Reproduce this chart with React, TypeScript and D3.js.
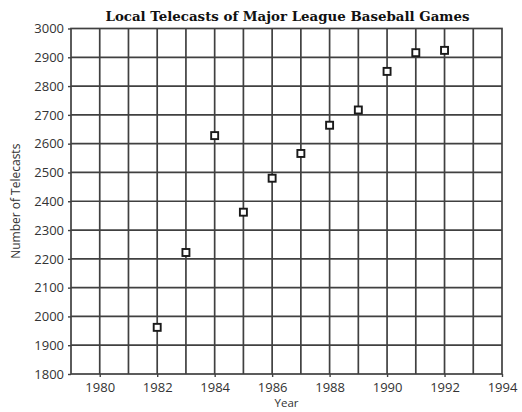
import * as d3 from "d3";
import { useEffect, useRef } from "react";

const years = [1982, 1983, 1984, 1985, 1986, 1987, 1988, 1989, 1990, 1991, 1992];
const telecasts = [1962, 2222, 2628, 2362, 2480, 2566, 2664, 2717, 2851, 2916, 2924];
const xTicks = [1980, 1982, 1984, 1986, 1988, 1990, 1992, 1994];
const yTicks = [1800, 1900, 2000, 2100, 2200, 2300, 2400, 2500, 2600, 2700, 2800, 2900, 3000];

export default function App() {
    const svgRef = useRef<SVGSVGElement | null>(null);

    useEffect(() => {
        if (!svgRef.current) return;

        const svg = d3.select(svgRef.current);
        svg.selectAll("*").remove();

        const margin = { top: 28.5, right: 20, bottom: 38, left: 71 };
        const totalW = 522;
        const totalH = 412;
        const W = totalW - margin.left - margin.right;
        const H = totalH - margin.top - margin.bottom;

        svg.append("rect").attr("width", totalW).attr("height", totalH).attr("fill", "#fff");

        const g = svg
            .append("g")
            .attr("transform", `translate(${margin.left},${margin.top})`);

        const x = d3.scaleLinear().domain([1979, 1994]).range([0, W]);
        const y = d3.scaleLinear().domain([1800, 3000]).range([H, 0]);

        const gridColor = "#404040";

        // vertical grid, one per year
        g.append("g")
            .selectAll("line")
            .data(d3.range(1980, 1994))
            .join("line")
            .attr("x1", (d) => x(d))
            .attr("x2", (d) => x(d))
            .attr("y1", 0)
            .attr("y2", H)
            .attr("stroke", gridColor)
            .attr("stroke-width", 1.7);

        // horizontal grid
        g.append("g")
            .selectAll("line")
            .data(yTicks.slice(1, -1))
            .join("line")
            .attr("x1", 0)
            .attr("x2", W)
            .attr("y1", (d) => y(d))
            .attr("y2", (d) => y(d))
            .attr("stroke", gridColor)
            .attr("stroke-width", 1.7);

        g.append("rect")
            .attr("width", W)
            .attr("height", H)
            .attr("fill", "none")
            .attr("stroke", gridColor)
            .attr("stroke-width", 1.7);

        const font = "'Open Sans', sans-serif";

        // y axis
        const yAxis = g.append("g").call(
            d3.axisLeft(y).tickValues(yTicks).tickSize(3).tickPadding(4).tickFormat((d) => `${d}`)
        );
        yAxis.select(".domain").remove();
        yAxis.selectAll(".tick line").attr("stroke", gridColor).attr("stroke-width", 1.4);
        yAxis
            .selectAll(".tick text")
            .attr("font-family", font)
            .attr("font-size", 13)
            .attr("fill", "#333");

        // x axis
        const xAxis = g
            .append("g")
            .attr("transform", `translate(0,${H})`)
            .call(d3.axisBottom(x).tickValues(xTicks).tickSize(3).tickPadding(6).tickFormat((d) => `${d}`));
        xAxis.select(".domain").remove();
        xAxis.selectAll(".tick line").attr("stroke", gridColor).attr("stroke-width", 1.4);
        xAxis
            .selectAll(".tick text")
            .attr("font-family", font)
            .attr("font-size", 13)
            .attr("fill", "#333");

        // points
        const s = 7;
        g.append("g")
            .selectAll("rect")
            .data(years)
            .join("rect")
            .attr("x", (d) => x(d) - s / 2)
            .attr("y", (d, i) => y(telecasts[i]) - s / 2)
            .attr("width", s)
            .attr("height", s)
            .attr("fill", "#fff")
            .attr("stroke", "#1a1a1a")
            .attr("stroke-width", 1.9);

        // titles
        svg.append("text")
            .attr("x", margin.left + W / 2 + 1)
            .attr("y", 21)
            .attr("text-anchor", "middle")
            .attr("font-family", "'DejaVu Serif', serif")
            .attr("font-weight", "bold")
            .attr("font-size", 13.5)
            .attr("textLength", 364)
            .attr("lengthAdjust", "spacingAndGlyphs")
            .attr("fill", "#111")
            .text("Local Telecasts of Major League Baseball Games");

        svg.append("text")
            .attr("x", margin.left + W / 2)
            .attr("y", 407)
            .attr("text-anchor", "middle")
            .attr("font-family", font)
            .attr("font-size", 11.5)
            .attr("fill", "#333")
            .text("Year");

        svg.append("text")
            .attr("transform", `translate(20,${margin.top + H / 2}) rotate(-90)`)
            .attr("text-anchor", "middle")
            .attr("font-family", font)
            .attr("font-size", 12)
            .attr("fill", "#333")
            .text("Number of Telecasts");
    }, []);

    return (
        <svg
            ref={svgRef}
            width={522}
            height={412}
            style={{ position: "absolute", left: 0, top: 0, display: "block" }}
        />
    );
}
